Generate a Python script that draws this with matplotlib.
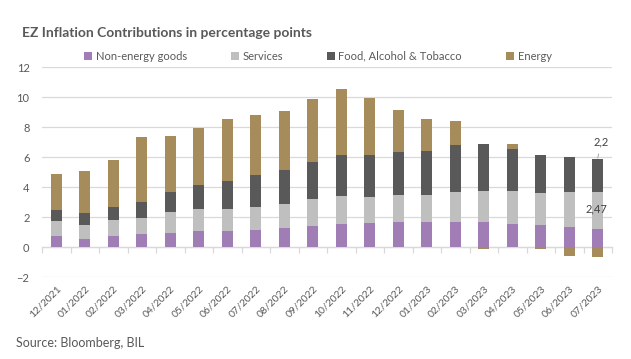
import matplotlib
matplotlib.use("Agg")
import matplotlib.pyplot as plt
import numpy as np

plt.rcParams['font.family'] = ['Lato', 'DejaVu Sans']

months = ["12/2021", "01/2022", "02/2022", "03/2022", "04/2022", "05/2022", "06/2022",
          "07/2022", "08/2022", "09/2022", "10/2022", "11/2022", "12/2022", "01/2023",
          "02/2023", "03/2023", "04/2023", "05/2023", "06/2023", "07/2023"]
non_energy = [0.73, 0.53, 0.73, 0.87, 0.93, 1.07, 1.07, 1.13, 1.27, 1.40, 1.53, 1.60,
              1.67, 1.67, 1.67, 1.67, 1.53, 1.47, 1.33, 1.20]
services = [1.00, 0.94, 1.07, 1.06, 1.40, 1.46, 1.46, 1.54, 1.60, 1.80, 1.87, 1.73,
            1.80, 1.80, 2.00, 2.06, 2.20, 2.13, 2.34, 2.47]
food = [0.74, 0.80, 0.87, 1.07, 1.34, 1.60, 1.87, 2.13, 2.26, 2.47, 2.73, 2.80,
        2.86, 2.93, 3.13, 3.14, 2.80, 2.53, 2.33, 2.20]
energy = [2.40, 2.80, 3.13, 4.33, 3.73, 3.80, 4.13, 4.00, 3.94, 4.20, 4.40, 3.80,
          2.80, 2.13, 1.60, -0.10, 0.33, -0.10, -0.60, -0.67]
series_names = ["Non-energy goods", "Services", "Food, Alcohol & Tobacco", "Energy"]
colors = ["#A17DB5", "#BFBFBF", "#595959", "#A68C5B"]

txt = "#595959"
grid = "#D9D9D9"

fig = plt.figure(figsize=(6.31, 3.59), dpi=100)
ax = fig.add_axes([42/631, 1-277.3/359, 570/631, 210/359])

x = np.arange(len(months))
data = [np.array(non_energy), np.array(services), np.array(food), np.array(energy)]
pos_base = np.zeros(len(months))
neg_base = np.zeros(len(months))
handles = []
for vals, name, col in zip(data, series_names, colors):
    pos = np.where(vals > 0, vals, 0)
    neg = np.where(vals < 0, vals, 0)
    h = ax.bar(x, pos, 0.4, bottom=pos_base, color=col, label=name, zorder=3)
    ax.bar(x, neg, 0.4, bottom=neg_base, color=col, zorder=3)
    pos_base += pos
    neg_base += neg
    handles.append(h)

ax.set_xlim(-0.5, len(months) - 0.5)
ax.set_ylim(-2, 12)
ax.set_yticks(np.arange(-2, 13, 2))
ax.yaxis.grid(True, color=grid, linewidth=0.9, zorder=0)
ax.set_axisbelow(True)
for s in ax.spines.values():
    s.set_visible(False)
ax.tick_params(axis='y', length=0, pad=9, labelsize=8, labelcolor=txt)
ax.set_xticks(x)
ax.set_xticklabels(months, rotation=45, ha='right', va='top', rotation_mode='anchor')
ax.tick_params(axis='x', length=0, pad=5, labelsize=7.5, labelcolor=txt)

# category axis at zero with boundary tick marks
sec = ax.secondary_xaxis(2/14)
sec.set_xticks(np.arange(-0.5, len(months) + 0.5, 1))
sec.tick_params(axis='x', direction='out', length=4, color=grid, width=0.9, labelbottom=False)
sec.spines['bottom'].set_color(grid)
sec.spines['bottom'].set_linewidth(0.9)
for k in ['top', 'left', 'right']:
    sec.spines[k].set_visible(False)

# data labels for last bar
lab_food = f"{food[-1]:g}".replace('.', ',')
lab_serv = f"{services[-1]:g}".replace('.', ',')
ax.annotate(lab_food, xy=(19.0, 5.95), xytext=(19.12, 7.05), ha='center', va='center',
            fontsize=8, color="#404040",
            arrowprops=dict(arrowstyle='-', color="#A6A6A6", lw=0.7, shrinkA=3, shrinkB=0),
            zorder=5)
ax.text(18.97, non_energy[-1] + services[-1] * 0.55, lab_serv, ha='center', va='center',
        fontsize=8, color="#404040", zorder=5)

fig.text(22/631, 1-33/359, "EZ Inflation Contributions in percentage points",
         fontsize=10, fontweight='bold', color=txt, ha='left', va='center')
fig.text(16/631, 1-343/359, "Source: Bloomberg, BIL", fontsize=9, color=txt,
         ha='left', va='center')

leg = fig.legend(handles=handles, labels=series_names, loc='center',
                 bbox_to_anchor=(318/631, 1-56/359), ncol=4, frameon=False,
                 fontsize=8, handlelength=0.7, handleheight=0.7, handletextpad=0.3,
                 columnspacing=4.0, borderaxespad=0)
for t in leg.get_texts():
    t.set_color(txt)

fig.savefig("out.png", dpi=100, facecolor='white')
